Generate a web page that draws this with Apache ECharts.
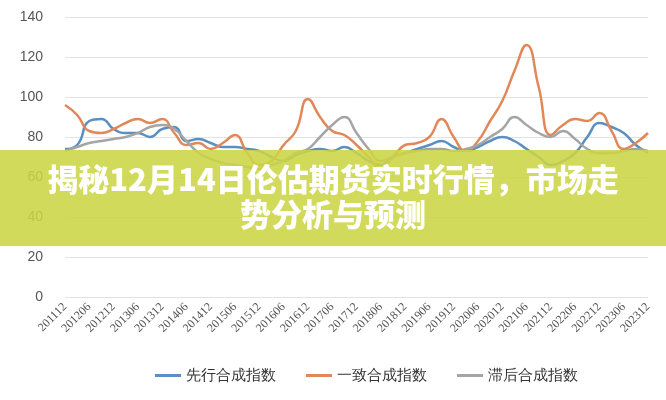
<!DOCTYPE html>
<html><head><meta charset="utf-8">
<script src="https://cdn.jsdelivr.net/npm/echarts@6/dist/echarts.min.js"></script>
<style>html,body{margin:0;padding:0;background:#fff}#c{width:666px;height:400px}</style>
</head><body><div id="c"></div>
<script>
const labels=['201112','201206','201212','201306','201312','201406','201412','201506','201512','201606','201612','201706','201712','201806','201812','201906','201912','202006','202012','202106','202112','202206','202212','202306','202312'];
const categories=[];
for(let i=0;i<labels.length;i++){categories.push(labels[i]);if(i<labels.length-1){const y=+labels[i].slice(0,4),m=+labels[i].slice(4);const nm=m===12?3:9;const ny=m===12?y+1:y;categories.push(String(ny)+String(nm).padStart(2,'0'));}}
const leading=[74,76,88,89,84,82,82,80,84,85,78,79,77,75,75,74,73,70,68,71,73,74,73,75,72,68,66,70,72,74,76,78,75,73,75,78,80,78,74,70,66,68,72,80,87,85,82,76,72];
const coincident=[96,91,83,82,84,87,89,87,89,82,76,77,74,77,81,72,66,68,76,83,99,90,83,81,76,70,64,70,76,77,80,89,80,73,78,88,98,113,126,105,81,86,89,88,92,83,74,77,82];
const lagging=[73,75,77,78,79,80,82,85,86,84,78,72,69,67,66,65,64,66,68,72,74,80,86,90,82,74,68,70,72,73,74,74,73,74,76,80,84,90,86,82,80,83,79,74,72,72,73,74,73];
const seriesNames=['先行合成指数','一致合成指数','滞后合成指数'];
const colors=['#5b8fc0','#e0885a','#a5a5a5'];
const title=['揭秘12月14日伦估期货实时行情，市场走','势分析与预测'];
const chart=echarts.init(document.getElementById('c'));
const mk=(n,d,c)=>({name:n,type:'line',data:d,smooth:0.5,symbol:'none',lineStyle:{width:2.5,color:c},itemStyle:{color:c}});
chart.setOption({
 animation:false,
 grid:{left:65,right:18,top:17,bottom:103},
 legend:{bottom:12,left:150,itemWidth:26,itemHeight:3,itemGap:30,icon:'rect',textStyle:{fontSize:15,color:'#333'},data:seriesNames},
 xAxis:{type:'category',data:categories,boundaryGap:false,axisLine:{show:false},axisTick:{show:false},
   axisLabel:{interval:1,rotate:45,fontSize:12,color:'#555',fontFamily:'Liberation Serif'}},
 yAxis:{type:'value',min:0,max:140,interval:20,axisLabel:{fontSize:14,color:'#555',margin:22},
   splitLine:{lineStyle:{color:'#e2e2e2'}}},
 series:[mk(seriesNames[0],leading,colors[0]),mk(seriesNames[1],coincident,colors[1]),mk(seriesNames[2],lagging,colors[2])],
 graphic:[
  {type:'rect',left:0,top:150,shape:{width:666,height:96},style:{fill:'rgba(204,213,70,0.88)'},z:100},
  {type:'text',left:'center',top:164,style:{text:title[0],fill:'#fff',font:'900 31px "Noto Sans CJK SC"'},z:101},
  {type:'text',left:'center',top:199,style:{text:title[1],fill:'#fff',font:'900 31px "Noto Sans CJK SC"'},z:101}
 ]
});
</script></body></html>
